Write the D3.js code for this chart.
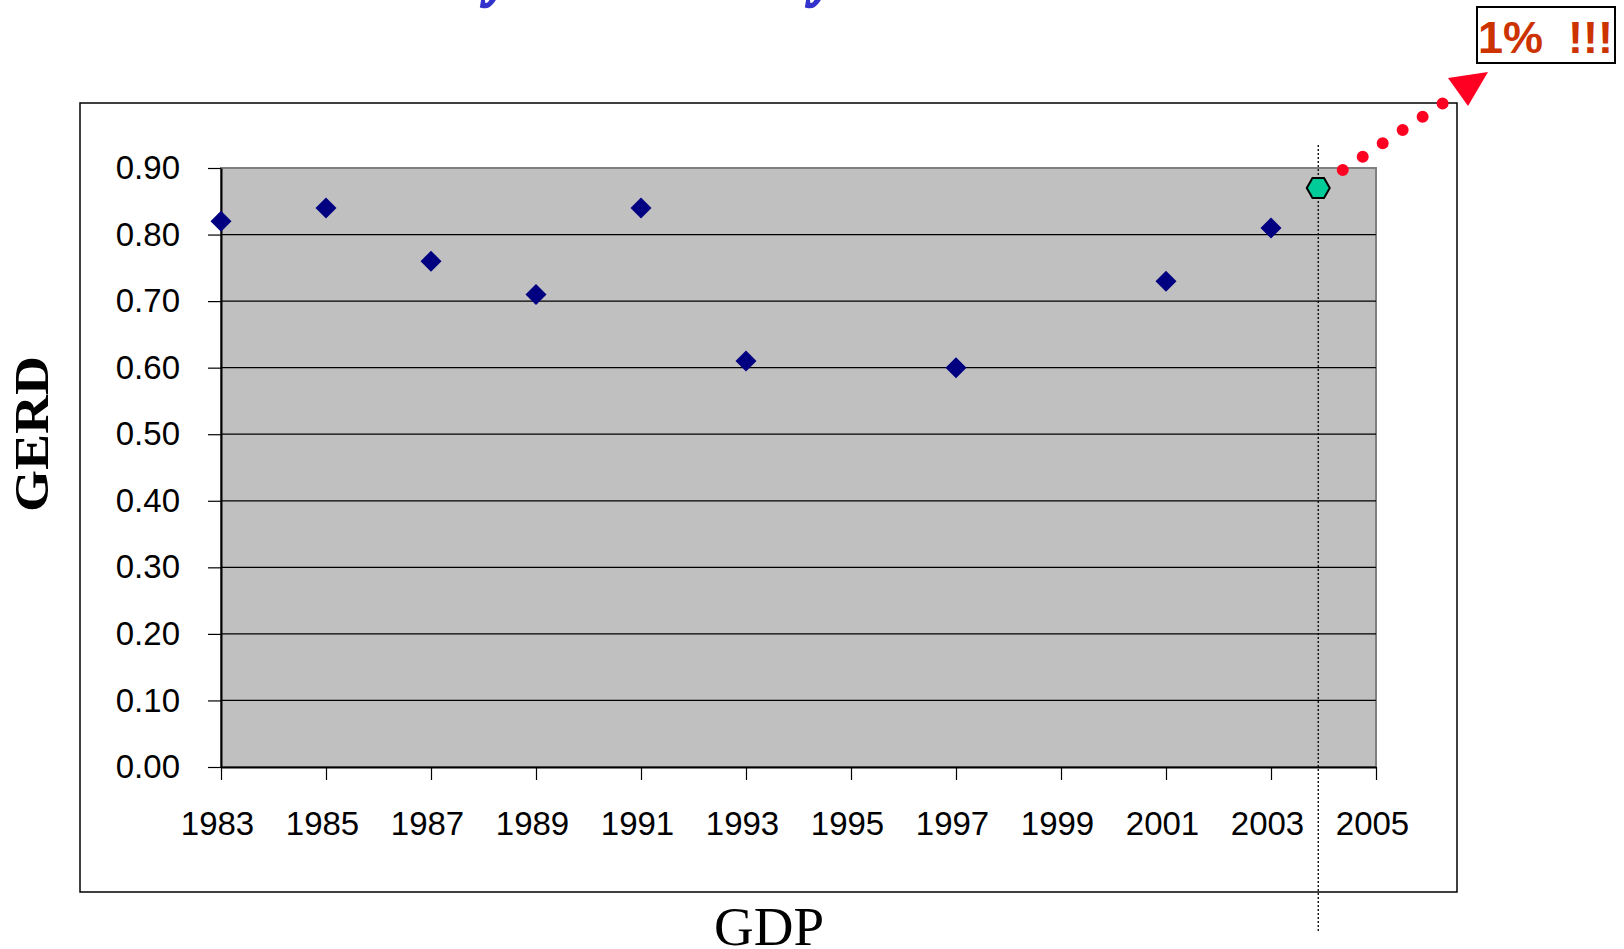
<!DOCTYPE html>
<html>
<head>
<meta charset="utf-8">
<script src="https://cdn.jsdelivr.net/npm/d3@7"></script>
<style>
  body { margin: 0; background: #fff; }
  svg { display: block; }
</style>
</head>
<body>
<script>
// GERD as % of GDP, Italy
const years = [1983, 1985, 1987, 1989, 1991, 1993, 1997, 2001, 2003]
const gerd = [0.82, 0.84, 0.76, 0.71, 0.84, 0.61, 0.60, 0.73, 0.81]
// latest estimate, drawn as the green hexagon
const latestYear = [2003.9]
const latestGerd = [0.87]
const yTicks = [0, 0.1, 0.2, 0.3, 0.4, 0.5, 0.6, 0.7, 0.8, 0.9]
const xTicks = d3.range(1983, 2006, 2)
const target = '1%  !!!'

const m = {
    width: 1624,
    height: 949,
    left: 221,
    right: 1376,
    top: 168,
    bottom: 767
}

const svg = d3.select('body').append('svg')
    .attr('width', m.width)
    .attr('height', m.height)

// title, mostly cut off at the top of the slide
svg.append('text')
    .attr('x', 414)
    .attr('y', -4)
    .attr('font-family', 'Liberation Serif')
    .attr('font-weight', 'bold')
    .attr('font-style', 'italic')
    .attr('font-size', 50)
    .attr('fill', '#3333cc')
    .attr('stroke', '#3333cc')
    .attr('stroke-width', 2.5)
    .text('Italy: R&D intensity')

// outer chart frame
svg.append('rect')
    .attr('x', 80).attr('y', 103)
    .attr('width', 1377).attr('height', 789)
    .attr('fill', '#fff')
    .attr('stroke', '#000')
    .attr('stroke-width', 1.5)

const x = d3.scaleLinear()
    .domain([1983, 2005])
    .range([m.left, m.right])

const y = d3.scaleLinear()
    .domain([0, 0.9])
    .range([m.bottom, m.top])

// plot area
svg.append('rect')
    .attr('x', m.left).attr('y', m.top)
    .attr('width', m.right - m.left).attr('height', m.bottom - m.top)
    .attr('fill', '#c0c0c0')
    .attr('stroke', '#808080')
    .attr('stroke-width', 2)

// gridlines
svg.append('g')
    .selectAll('line')
    .data(yTicks.slice(1, -1))
    .enter()
    .append('line')
        .attr('x1', m.left).attr('x2', m.right)
        .attr('y1', d => y(d)).attr('y2', d => y(d))
        .attr('stroke', '#000')
        .attr('stroke-width', 1.2)

const yAxis = svg.append('g')
    .attr('transform', `translate(${m.left},0)`)
    .call(d3.axisLeft(y)
        .tickValues(yTicks)
        .tickFormat(d3.format('.2f'))
        .tickSize(13)
        .tickSizeOuter(0)
        .tickPadding(28))

const xAxis = svg.append('g')
    .attr('transform', `translate(0,${m.bottom})`)
    .call(d3.axisBottom(x)
        .tickValues(xTicks)
        .tickFormat(d3.format('d'))
        .tickSize(13)
        .tickSizeOuter(0)
        .tickPadding(32))

for (const ax of [xAxis, yAxis]) {
    ax.select('.domain').attr('stroke', '#000').attr('stroke-width', 2)
    ax.selectAll('.tick line').attr('stroke', '#000').attr('stroke-width', 1.2)
    ax.selectAll('text')
        .attr('font-family', 'Liberation Sans, Arial, sans-serif')
        .attr('font-size', 33)
        .attr('fill', '#000')
}
xAxis.selectAll('text').attr('dx', -4)

// data points
const diamond = d3.symbol().type(d3.symbolSquare).size(220)
svg.append('g')
    .selectAll('path')
    .data(years.map((d, i) => [d, gerd[i]]))
    .enter()
    .append('path')
        .attr('d', diamond)
        .attr('transform', d => `translate(${x(d[0])},${y(d[1])}) rotate(45)`)
        .attr('fill', '#000080')

// vertical dotted marker at the latest year
svg.append('line')
    .attr('x1', x(latestYear[0])).attr('x2', x(latestYear[0]))
    .attr('y1', 145).attr('y2', 931)
    .attr('stroke', '#000')
    .attr('stroke-width', 1.3)
    .attr('stroke-dasharray', '2,2')

// hexagon for the latest value
const hex = d3.range(6).map(i => [11.5 * Math.cos(i * Math.PI / 3), 11.5 * Math.sin(i * Math.PI / 3)])
svg.append('g')
    .selectAll('path')
    .data(latestYear.map((d, i) => [d, latestGerd[i]]))
    .enter()
    .append('path')
        .attr('d', d3.line()(hex) + 'Z')
        .attr('transform', d => `translate(${x(d[0])},${y(d[1])})`)
        .attr('fill', '#00cc99')
        .attr('stroke', '#000')
        .attr('stroke-width', 2)

// red dotted arrow towards the 1% target
const hx = x(latestYear[0]), hy = y(latestGerd[0])
svg.append('line')
    .attr('x1', hx + 24.5).attr('y1', hy - 18)
    .attr('x2', hx + 125).attr('y2', hy - 85)
    .attr('stroke', '#ff0022')
    .attr('stroke-width', 12)
    .attr('stroke-linecap', 'round')
    .attr('stroke-dasharray', '0 24')

svg.append('polygon')
    .attr('points', [[1448, 78], [1488, 72], [1468, 106]].join(' '))
    .attr('fill', '#ff0022')

// target box
svg.append('rect')
    .attr('x', 1477).attr('y', 7)
    .attr('width', 138).attr('height', 56)
    .attr('fill', '#fff')
    .attr('stroke', '#000')
    .attr('stroke-width', 2)

svg.append('text')
    .attr('x', 1478)
    .attr('y', 53)
    .attr('font-family', 'Liberation Sans, Arial, sans-serif')
    .attr('font-weight', 'bold')
    .attr('font-size', 45)
    .attr('fill', '#cc3300')
    .style('white-space', 'pre')
    .text(target)

// axis titles
svg.append('text')
    .attr('transform', 'translate(48,434) rotate(-90)')
    .attr('text-anchor', 'middle')
    .attr('font-family', 'Liberation Serif, Times New Roman, serif')
    .attr('font-weight', 'bold')
    .attr('font-size', 49)
    .attr('textLength', 156)
    .attr('lengthAdjust', 'spacingAndGlyphs')
    .text('GERD')

svg.append('text')
    .attr('x', 769)
    .attr('y', 945)
    .attr('text-anchor', 'middle')
    .attr('font-family', 'Liberation Serif, Times New Roman, serif')
    .attr('font-size', 55)
    .text('GDP')
</script>
</body>
</html>
